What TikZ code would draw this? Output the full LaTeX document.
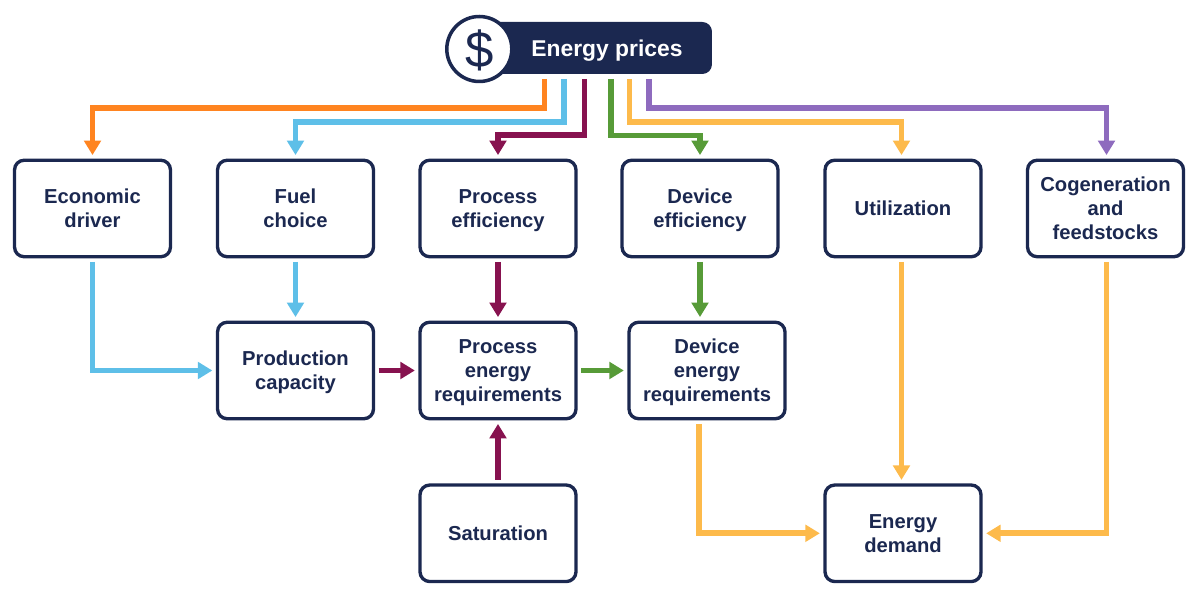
\documentclass[tikz,border=0pt]{standalone}
\usepackage{fontspec}
\setmainfont{Liberation Sans}
\usetikzlibrary{arrows.meta}
\definecolor{cnavy}{RGB}{27,40,80}
\definecolor{corange}{RGB}{255,132,32}
\definecolor{cblue}{RGB}{94,191,232}
\definecolor{cmaroon}{RGB}{135,18,79}
\definecolor{cgreen}{RGB}{87,155,56}
\definecolor{cyellow}{RGB}{253,186,75}
\definecolor{cpurple}{RGB}{142,107,190}
\newcommand{\blktop}{\rule{0pt}{12pt}}
\newcommand{\blkbot}{\rule[-4pt]{0pt}{4pt}}
\tikzset{
  blk/.style={draw=cnavy, fill=white, line width=1.9pt, rounded corners=5.5pt,
              minimum width=3.12cm, minimum height=1.93cm, text width=3cm, inner sep=0pt,
              align=center, text=cnavy, font=\fontsize{11.5}{13.6}\selectfont\bfseries,
              execute at begin node=\blktop, execute at end node=\blkbot},
  flowarr/.style={-{Triangle[width=3.3mm, length=2.9mm]}, line width=3.2pt,
              shorten <=0.7mm, shorten >=0.7mm},
  pill/.style={fill=cnavy, rounded corners=5.5pt, minimum width=4.44cm, minimum height=1.04cm},
  ptxt/.style={text=white, inner sep=0pt, font=\fontsize{13}{15}\selectfont\bfseries},
  coin/.style={circle, draw=cnavy, fill=white, line width=2pt, minimum size=1.3cm, inner sep=0pt,
              text=cnavy, font=\fontsize{29}{29}\selectfont},
}
\begin{document}
\begin{tikzpicture}[x=0.02cm, y=-0.02cm]
    \useasboundingbox (0,0) rectangle (1200,597);
    % top
    \node[pill] (prices) at (601,48) {};
    \node[ptxt] (pricetxt) at (607,51) {Energy prices};
    \node[coin] (dollar) at (479.3,49) {\raisebox{-0.6pt}[\height][\depth]{\$}};
    \coordinate (s1) at (544.5,79);
    \coordinate (s2) at (564.3,79);
    \coordinate (s3) at (584.5,79);
    \coordinate (s4) at (611,79);
    \coordinate (s5) at (629.5,79);
    \coordinate (s6) at (649,79);
    % boxes
    \node[blk] (econ) at (92.5,208.5) {Economic\\driver};
    \node[blk] (fuel) at (295.5,208.5) {Fuel\\choice};
    \node[blk] (proceff) at (498,208.5) {Process\\efficiency};
    \node[blk] (deveff) at (700,208.5) {Device\\efficiency};
    \node[blk] (util) at (903,208.5) {Utilization};
    \node[blk] (cogen) at (1105.5,208.5) {Cogeneration\\and\\feedstocks};
    \node[blk] (prod) at (295.5,370.5) {Production\\capacity};
    \node[blk] (procreq) at (498,370.5) {Process\\energy\\requirements};
    \node[blk] (devreq) at (707,370.5) {Device\\energy\\requirements};
    \node[blk] (sat) at (498,533.3) {Saturation};
    \node[blk] (demand) at (903,533.3) {Energy\\demand};
    % from prices
    \draw[flowarr, corange, shorten <=0pt] (s1) -- ++(0,29) -| (econ.north);
    \draw[flowarr, cblue, shorten <=0pt] (s2) -- ++(0,43) -| (fuel.north);
    \draw[flowarr, cmaroon, shorten <=0pt] (s3) -- ++(0,56) -| (proceff.north);
    \draw[flowarr, cgreen, shorten <=0pt] (s4) -- ++(0,56.5) -| (deveff.north);
    \draw[flowarr, cyellow, shorten <=0pt] (s5) -- ++(0,43) -| ([xshift=-0.03cm]util.north);
    \draw[flowarr, cpurple, shorten <=0pt] (s6) -- ++(0,29) -| ([xshift=0.02cm]cogen.north);
    % between boxes
    \draw[flowarr, cblue] (econ.south) |- (prod.west);
    \draw[flowarr, cblue] (fuel.south) -- (prod.north);
    \draw[flowarr, cmaroon] (prod.east) -- (procreq.west);
    \draw[flowarr, cmaroon] (proceff.south) -- (procreq.north);
    \draw[flowarr, cmaroon] (sat.north) -- (procreq.south);
    \draw[flowarr, cgreen] (procreq.east) -- (devreq.west);
    \draw[flowarr, cgreen] (deveff.south) -- (deveff.south |- devreq.north);
    \draw[flowarr, cyellow] ([xshift=-0.155cm]devreq.south) |- (demand.west);
    \draw[flowarr, cyellow] ([xshift=-0.03cm]util.south) -- ([xshift=-0.03cm]demand.north);
    \draw[flowarr, cyellow] ([xshift=0.02cm]cogen.south) |- (demand.east);
\end{tikzpicture}
\end{document}
